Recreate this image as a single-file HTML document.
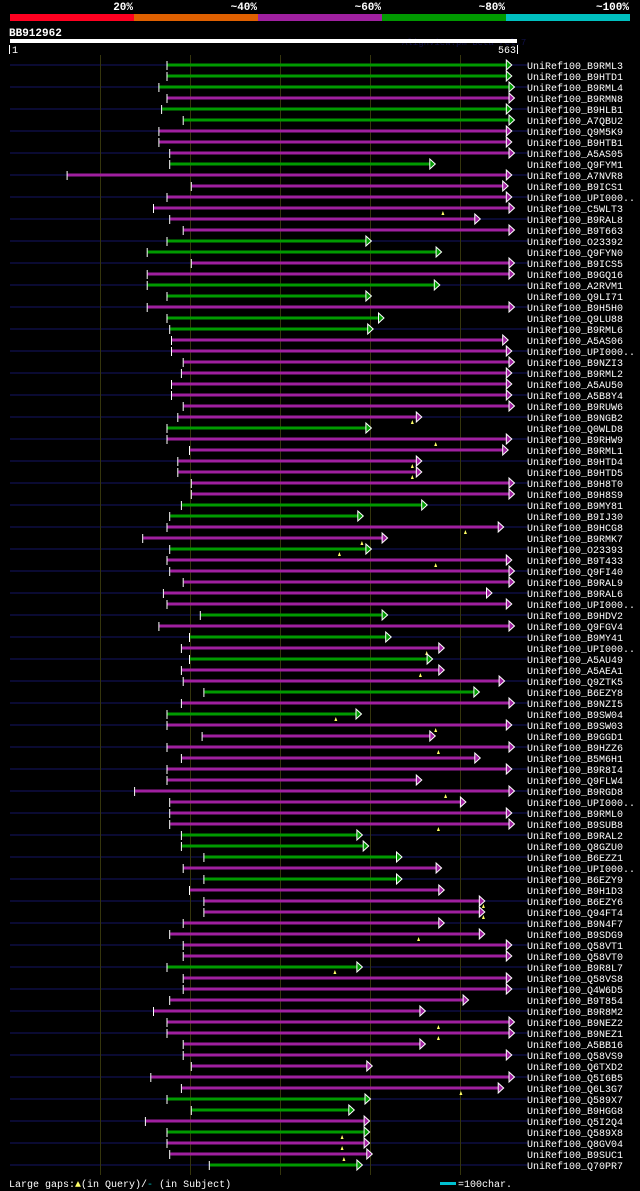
<!DOCTYPE html>
<html><head><meta charset="utf-8">
<style>
html,body{margin:0;padding:0;background:#000;}
#wrap{position:relative;width:640px;height:1191px;overflow:hidden;background:#000;}
svg text{font-family:"Liberation Mono",monospace;}
</style></head>
<body>
<div id="wrap">
<svg id="chart" width="640" height="1191" viewBox="0 0 640 1191"></svg>
</div>
<script>
const names=["B9RML3","B9HTD1","B9RML4","B9RMN8","B9HLB1","A7QBU2","Q9M5K9","B9HTB1","A5AS05","Q9FYM1","A7NVR8","B9ICS1","UPI000..","C5WLT3","B9RAL8","B9T663","O23392","Q9FYN0","B9ICS5","B9GQ16","A2RVM1","Q9LI71","B9H5H0","Q9LU88","B9RML6","A5AS06","UPI000..","B9NZI3","B9RML2","A5AU50","A5B8Y4","B9RUW6","B9NGB2","Q0WLD8","B9RHW9","B9RML1","B9HTD4","B9HTD5","B9H8T0","B9H8S9","B9MY81","B9IJ30","B9HCG8","B9RMK7","O23393","B9T433","Q9FI40","B9RAL9","B9RAL6","UPI000..","B9HDV2","Q9FGV4","B9MY41","UPI000..","A5AU49","A5AEA1","Q9ZTK5","B6EZY8","B9NZI5","B9SW04","B9SW03","B9GGD1","B9HZZ6","B5M6H1","B9R8I4","Q9FLW4","B9RGD8","UPI000..","B9RML0","B9SUB8","B9RAL2","Q8GZU0","B6EZZ1","UPI000..","B6EZY9","B9H1D3","B6EZY6","Q94FT4","B9N4F7","B9SDG9","Q58VT1","Q58VT0","B9R8L7","Q58VS8","Q4W6D5","B9T854","B9R8M2","B9NEZ2","B9NEZ1","A5BB16","Q58VS9","Q6TXD2","Q5I6B5","Q6L3G7","Q589X7","B9HGG8","Q5I2Q4","Q589X8","Q8GV04","B9SUC1","Q70PR7"];
const starts=[175,175,166,175,169,193,166,166,178,178,64,202,175,160,178,193,175,153,202,153,153,175,153,175,178,180,180,193,191,180,180,193,187,175,175,200,187,187,202,202,191,178,175,148,178,175,178,193,171,175,212,166,200,191,200,191,193,216,191,175,175,214,175,191,175,175,139,178,178,178,191,191,216,193,216,200,216,216,193,178,193,193,175,193,193,178,160,175,175,193,193,202,157,191,175,202,151,175,175,178,222];
const ends=[557,557,560,560,557,560,557,557,560,472,557,553,557,560,522,560,401,479,560,560,477,401,560,415,403,553,557,560,557,557,557,560,457,401,557,553,457,457,560,560,463,392,548,419,401,557,560,560,535,557,419,560,423,482,469,482,549,521,560,390,557,472,560,522,557,457,560,506,557,560,391,398,435,479,435,482,527,527,482,527,557,557,391,557,557,509,461,560,560,461,557,402,560,548,400,382,399,399,399,402,391];
const greenRows=[1,2,3,5,6,10,17,18,21,22,24,25,34,41,42,45,51,53,55,58,60,71,72,73,75,83,95,96,98,101];
const gapMarks=[null,null,null,null,null,null,null,null,null,null,null,null,null,481,null,null,null,null,null,null,null,null,null,null,null,null,null,null,null,null,null,null,447,null,473,null,447,447,null,null,null,null,506,391,366,473,null,null,null,null,null,null,null,463,null,456,null,null,null,362,473,null,476,null,null,null,484,null,null,476,null,null,null,null,null,null,526,526,null,454,null,null,361,null,null,null,null,476,476,null,null,null,null,501,null,null,null,369,369,371,null];
const gridTicks=[100,200,300,400,500];
const pctLabels=["20%","~40%","~60%","~80%","~100%"];
const pctColors=["#ff0020","#e06000","#a020a0","#009900","#00c0c0"];

const svg=document.getElementById('chart');
const NS='http://www.w3.org/2000/svg';
const xOf=p=>10+p*0.9;
const yOf=i=>65+i*11;
function mk(tag,attrs,parent){const e=document.createElementNS(NS,tag);for(const k in attrs)e.setAttribute(k,attrs[k]);(parent||svg).appendChild(e);return e;}

for(let i=0;i<5;i++){
  const r=mk('rect',{x:10+i*124,y:14,width:124,height:7,fill:pctColors[i]});
  
  
  const t=mk('text',{x:133+i*124,y:10,fill:'#fff','font-size':'11','font-weight':'bold','text-anchor':'end'});
  t.textContent=pctLabels[i];
  
  
}
let t=mk('text',{x:9,y:36,fill:'#fff','font-size':'11','font-weight':'bold'});t.textContent='BB912962';


t=mk('text',{x:402,y:45,fill:'#101048','font-size':'9'});t.textContent='AlignView.pm Beta rel.7';


let q=mk('rect',{x:10,y:39,width:507,height:4,fill:'#fff'});


mk('rect',{x:9,y:45,width:1,height:9,fill:'#fff'});
mk('rect',{x:517,y:45,width:1,height:9,fill:'#fff'});
t=mk('text',{x:12,y:53,fill:'#fff','font-size':'10'});t.textContent='1';


t=mk('text',{x:516,y:53,fill:'#fff','font-size':'10','text-anchor':'end'});t.textContent='563';



for(let i=0;i<names.length;i+=2){
  const s=mk('rect',{x:10,y:yOf(i)-1,width:518,height:2,fill:'#0a0a32'});
  
  
}
gridTicks.forEach(p=>{
  const g=mk('rect',{x:xOf(p),y:55,width:1,height:1120,fill:'#35350c'});
  
  
});
for(let i=0;i<names.length;i++){
  const y=yOf(i);
  const col=greenRows.includes(i+1)?'#009a00':'#a020a0';
  const x0=xOf(starts[i]), x1=xOf(ends[i]);
  const grp=mk('g',{});
  
  
  mk('rect',{x:x0,y:y-1.5,width:x1-5-x0,height:3,fill:col},grp);
  mk('rect',{x:x0-1,y:y-4,width:1,height:9,fill:'#fff'},grp);
  mk('polygon',{points:(x1-5)+','+(y-5)+' '+(x1+0.5)+','+y+' '+(x1-5)+','+(y+5),fill:col,stroke:'#fff','stroke-width':'1'},grp);
  if(gapMarks[i]!==null){
    const gx=xOf(gapMarks[i]);
    const m=mk('polygon',{points:(gx-1.5)+','+(y+7)+' '+gx+','+(y+3)+' '+(gx+1.5)+','+(y+7),fill:'#ffff66'},grp);
    
    
  }
  const lb=mk('text',{x:527,y:y+4,fill:'#fff','font-size':'10'});
  lb.textContent='UniRef100_'+names[i];
  
  
}
t=mk('text',{x:9,y:1187,fill:'#fff','font-size':'10'});


t.innerHTML='Large gaps:<tspan fill="#ffff66">\u25B2</tspan>(in Query)/<tspan fill="#00c0c0">-</tspan> (in Subject)';
let cb=mk('rect',{x:440,y:1182,width:16,height:3,fill:'#00c0d0'});


t=mk('text',{x:458,y:1187,fill:'#fff','font-size':'10'});t.textContent='=100char.';


</script>
</body></html>
